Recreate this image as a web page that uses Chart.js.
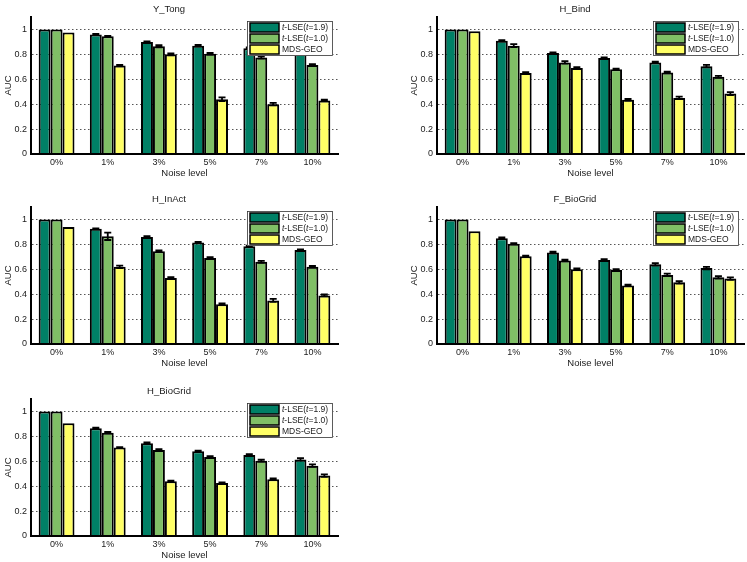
<!DOCTYPE html>
<html>
<head>
<meta charset="utf-8">
<script src="https://cdn.jsdelivr.net/npm/chart.js@4.4.0/dist/chart.umd.min.js"></script>
<style>
body { margin: 0; background: #fff; }
#wrap { position: relative; width: 747px; height: 562px; overflow: hidden; background: #fff; }
#wrap canvas { position: absolute; }
</style>
</head>
<body>
<div id="wrap">
    <canvas id="yTong" width="374" height="180" style="left:0px;top:0px"></canvas>
    <canvas id="hBind" width="341" height="180" style="left:406px;top:0px"></canvas>
    <canvas id="hInAct" width="374" height="180" style="left:0px;top:190px"></canvas>
    <canvas id="fBioGrid" width="341" height="180" style="left:406px;top:190px"></canvas>
    <canvas id="hBioGrid" width="374" height="180" style="left:0px;top:382px"></canvas>
</div>
<script>
// categories (noise level)
var noiseLevels = ['0%', '1%', '3%', '5%', '7%', '10%'];
var seriesLabels = ['t-LSE(t=1.9)', 't-LSE(t=1.0)', 'MDS-GEO'];
var seriesColors = ['#008066', '#80bf66', '#ffff66'];
var yTicks = [0, 0.2, 0.4, 0.6, 0.8, 1];

// Y_Tong
var yTongT19 = [1.0, 0.96, 0.90, 0.87, 0.85, 0.83];
var yTongT10 = [1.0, 0.945, 0.865, 0.805, 0.775, 0.715];
var yTongMds = [0.975, 0.71, 0.80, 0.44, 0.40, 0.43];
var yTongErrT19 = [0, 0.004, 0.004, 0.005, 0.005, 0.005];
var yTongErrT10 = [0, 0.004, 0.008, 0.007, 0.01, 0.007];
var yTongErrMds = [0, 0.006, 0.007, 0.015, 0.01, 0.007];

// H_Bind
var hBindT19 = [1.0, 0.91, 0.81, 0.77, 0.735, 0.705];
var hBindT10 = [1.0, 0.87, 0.735, 0.68, 0.655, 0.62];
var hBindMds = [0.985, 0.65, 0.69, 0.435, 0.45, 0.485];
var hBindErrT19 = [0, 0.005, 0.005, 0.006, 0.006, 0.01];
var hBindErrT10 = [0, 0.012, 0.01, 0.006, 0.007, 0.008];
var hBindErrMds = [0, 0.007, 0.007, 0.007, 0.01, 0.012];

// H_InAct
var hInActT19 = [1.0, 0.925, 0.86, 0.815, 0.785, 0.755];
var hInActT10 = [1.0, 0.865, 0.745, 0.69, 0.66, 0.62];
var hInActMds = [0.94, 0.62, 0.53, 0.32, 0.35, 0.39];
var hInActErrT19 = [0, 0.004, 0.005, 0.004, 0.004, 0.005];
var hInActErrT10 = [0, 0.03, 0.006, 0.007, 0.008, 0.007];
var hInActErrMds = [0, 0.01, 0.006, 0.005, 0.012, 0.008];

// F_BioGrid
var fBioT19 = [1.0, 0.85, 0.735, 0.675, 0.64, 0.61];
var fBioT10 = [1.0, 0.805, 0.67, 0.595, 0.555, 0.535];
var fBioMds = [0.905, 0.705, 0.60, 0.47, 0.495, 0.525];
var fBioErrT19 = [0, 0.005, 0.007, 0.007, 0.01, 0.01];
var fBioErrT10 = [0, 0.004, 0.007, 0.006, 0.01, 0.01];
var fBioErrMds = [0, 0.005, 0.007, 0.006, 0.01, 0.01];

// H_BioGrid
var hBioT19 = [1.0, 0.865, 0.745, 0.68, 0.65, 0.615];
var hBioT10 = [1.0, 0.83, 0.69, 0.635, 0.605, 0.565];
var hBioMds = [0.905, 0.71, 0.44, 0.425, 0.455, 0.485];
var hBioErrT19 = [0, 0.004, 0.007, 0.006, 0.008, 0.01];
var hBioErrT10 = [0, 0.005, 0.007, 0.007, 0.008, 0.01];
var hBioErrMds = [0, 0.004, 0.005, 0.005, 0.007, 0.01];

var FONT = "'Liberation Sans', Arial, Helvetica, sans-serif";
var TEXT = '#1a1a1a';

// error bars drawn on top of the bars
var errorBars = {
    id: 'errorBars',
    afterDatasetsDraw: function (chart) {
        var ctx = chart.ctx;
        var y = chart.scales.y;
        ctx.save();
        ctx.strokeStyle = '#000';
        ctx.lineWidth = 1.8;
        chart.data.datasets.forEach(function (ds, i) {
            var meta = chart.getDatasetMeta(i);
            meta.data.forEach(function (bar, j) {
                var e = ds.errors[j];
                if (!e) return;
                var top = y.getPixelForValue(ds.data[j] + e);
                var bot = y.getPixelForValue(ds.data[j] - e);
                var x = bar.x;
                ctx.beginPath();
                ctx.moveTo(x, top); ctx.lineTo(x, bot);
                ctx.moveTo(x - 3.5, top); ctx.lineTo(x + 3.5, top);
                ctx.moveTo(x - 3.5, bot); ctx.lineTo(x + 3.5, bot);
                ctx.stroke();
            });
        });
        ctx.restore();
    }
};

// text with italic lower-case t, like the matlab legend
function drawLegendText(ctx, text, x, y) {
    for (var k = 0; k < text.length; k++) {
        var ch = text[k];
        ctx.font = (ch === 't' ? 'italic ' : '') + '8.5px ' + FONT;
        ctx.fillText(ch, x, y);
        x += ctx.measureText(ch).width;
    }
}

// boxed legend inside the plot, top right
var boxLegend = {
    id: 'boxLegend',
    afterDraw: function (chart) {
        var ctx = chart.ctx;
        var area = chart.chartArea;
        var w = 86, h = 35;
        var left = area.right - 5 - w;
        var top = area.top + 4;
        ctx.save();
        ctx.fillStyle = '#fff';
        ctx.fillRect(left, top, w, h);
        ctx.strokeStyle = '#333';
        ctx.lineWidth = 0.8;
        ctx.strokeRect(left + 0.5, top + 0.5, w - 1, h - 1);
        chart.data.datasets.forEach(function (ds, i) {
            var cy = top + 6.5 + i * 11;
            ctx.fillStyle = ds.backgroundColor;
            ctx.fillRect(left + 3, cy - 4.5, 29, 9);
            ctx.strokeStyle = '#000';
            ctx.lineWidth = 1.5;
            ctx.strokeRect(left + 3, cy - 4.5, 29, 9);
            ctx.fillStyle = TEXT;
            ctx.textBaseline = 'middle';
            ctx.textAlign = 'left';
            drawLegendText(ctx, ds.label, left + 35, cy + 0.5);
        });
        ctx.restore();
    }
};

function makePanel(id, title, rightPad, s19, s10, sMds, e19, e10, eMds) {
    var series = [s19, s10, sMds];
    var errs = [e19, e10, eMds];
    var datasets = series.map(function (d, i) {
        return {
            label: seriesLabels[i],
            data: d,
            errors: errs[i],
            backgroundColor: seriesColors[i],
            borderColor: '#000',
            borderWidth: 2,
            categoryPercentage: 0.7,
            barPercentage: 1.0
        };
    });

    return new Chart(document.getElementById(id).getContext('2d'), {
        type: 'bar',
        data: { labels: noiseLevels, datasets: datasets },
        options: {
            responsive: false,
            animation: false,
            devicePixelRatio: 1,
            layout: { padding: { left: 0, right: rightPad, top: 0, bottom: 0 } },
            plugins: {
                legend: { display: false },
                tooltip: { enabled: false },
                title: {
                    display: true,
                    text: title,
                    color: TEXT,
                    font: { family: FONT, size: 9.5, weight: 'normal', lineHeight: 1.263 },
                    padding: { top: 3, bottom: 2 }
                }
            },
            scales: {
                x: {
                    grid: { display: false, drawTicks: false },
                    border: { display: true, color: '#000', width: 2, z: 1 },
                    ticks: { color: TEXT, padding: 3, font: { family: FONT, size: 9 } },
                    title: {
                        display: true, text: 'Noise level', color: TEXT,
                        font: { family: FONT, size: 9.5 }, padding: { top: 0, bottom: 1.3 }
                    },
                    afterFit: function (scale) { scale.height = 26; }
                },
                y: {
                    min: 0,
                    max: 1.1,
                    afterBuildTicks: function (scale) {
                        scale.ticks = yTicks.map(function (v) { return { value: v }; });
                    },
                    grid: { color: '#555', lineWidth: 1, drawTicks: false },
                    border: { display: true, color: '#000', width: 2, dash: [1.5, 2.5] },
                    ticks: {
                        color: TEXT, padding: 4, font: { family: FONT, size: 9 },
                        callback: function (v) { return String(Math.round(v * 10) / 10); }
                    },
                    title: {
                        display: true, text: 'AUC', color: TEXT,
                        font: { family: FONT, size: 9.5 }, padding: { top: 2.5, bottom: 0 }
                    },
                    afterFit: function (scale) { scale.width = 31; }
                }
            }
        },
        plugins: [errorBars, boxLegend]
    });
}

document.addEventListener('DOMContentLoaded', function () {
    makePanel('yTong', 'Y_Tong', 36, yTongT19, yTongT10, yTongMds, yTongErrT19, yTongErrT10, yTongErrMds);
    makePanel('hBind', 'H_Bind', 3, hBindT19, hBindT10, hBindMds, hBindErrT19, hBindErrT10, hBindErrMds);
    makePanel('hInAct', 'H_InAct', 36, hInActT19, hInActT10, hInActMds, hInActErrT19, hInActErrT10, hInActErrMds);
    makePanel('fBioGrid', 'F_BioGrid', 3, fBioT19, fBioT10, fBioMds, fBioErrT19, fBioErrT10, fBioErrMds);
    makePanel('hBioGrid', 'H_BioGrid', 36, hBioT19, hBioT10, hBioMds, hBioErrT19, hBioErrT10, hBioErrMds);
});
</script>
</body>
</html>
